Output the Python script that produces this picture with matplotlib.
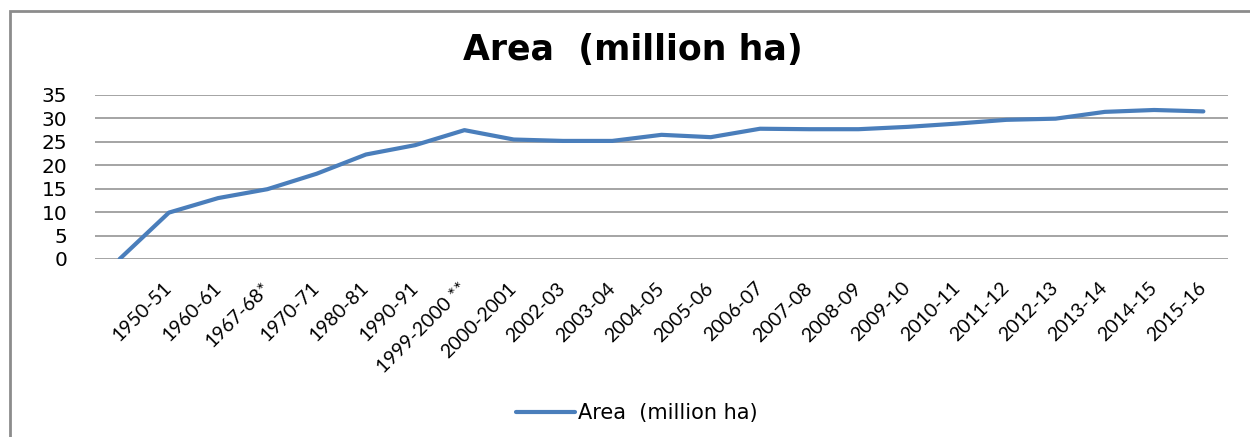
import matplotlib
matplotlib.use("Agg")
import matplotlib.pyplot as plt
from matplotlib.patches import Rectangle

categories = ['', '1950-51', '1960-61', '1967-68*', '1970-71', '1980-81', '1990-91',
              '1999-2000 **', '2000-2001', '2002-03', '2003-04', '2004-05', '2005-06',
              '2006-07', '2007-08', '2008-09', '2009-10', '2010-11', '2011-12',
              '2012-13', '2013-14', '2014-15', '2015-16']
area = [0, 9.9, 13.0, 14.9, 18.2, 22.3, 24.3, 27.5, 25.5, 25.2, 25.2, 26.5, 26.0,
        27.8, 27.7, 27.7, 28.2, 28.9, 29.7, 29.95, 31.4, 31.8, 31.5]
yticks = [0, 5, 10, 15, 20, 25, 30, 35]
series_name = 'Area  (million ha)'
title = 'Area  (million ha)'

W, H = 1250, 437
fig = plt.figure(figsize=(W / 100, H / 100), dpi=100)
fig.patch.set_facecolor('white')

# outer chart frame (cropped on right and bottom)
fig.patches.append(Rectangle((9.5 / W, -0.2), 1.5, 1.2 - 11 / H,
                             transform=fig.transFigure, fill=False,
                             edgecolor='#8c8c8c', linewidth=2.0, zorder=0))

ax = fig.add_axes([95 / W, 1 - 259 / H, (1228 - 95) / W, (259 - 95) / H])
x = list(range(len(categories)))
line, = ax.plot(x, area, color='#4a7ebb', linewidth=3.0, solid_capstyle='round',
                label=series_name, zorder=3)

ax.set_xlim(-0.5, len(categories) - 0.5)
ax.set_ylim(0, 35)
ax.set_yticks(yticks)
ax.set_yticklabels([str(v) for v in yticks], family='DejaVu Sans', fontsize=14.5)
ax.set_xticks(x)
ax.set_xticklabels(categories, rotation=45, ha='right', va='center',
                   rotation_mode='anchor', family='Lato', fontsize=14)
ax.tick_params(axis='y', length=0, pad=20, colors='black')
ax.tick_params(axis='x', length=0, pad=19, colors='black')
for s in ax.spines.values():
    s.set_visible(False)
ax.yaxis.grid(True, color='#8c8c8c', linewidth=1.1)
ax.set_axisbelow(True)

fig.text(633 / W, 1 - 50 / H, title, ha='center', va='center',
         family='DejaVu Sans', fontweight='bold', fontsize=25)

leg = fig.legend(handles=[line], loc='center', bbox_to_anchor=(637 / W, 1 - 413 / H),
                 frameon=False, prop={'family': 'DejaVu Sans', 'size': 15},
                 handlelength=2.8, handletextpad=0.15)

fig.savefig('out.png', dpi=100, facecolor='white')
